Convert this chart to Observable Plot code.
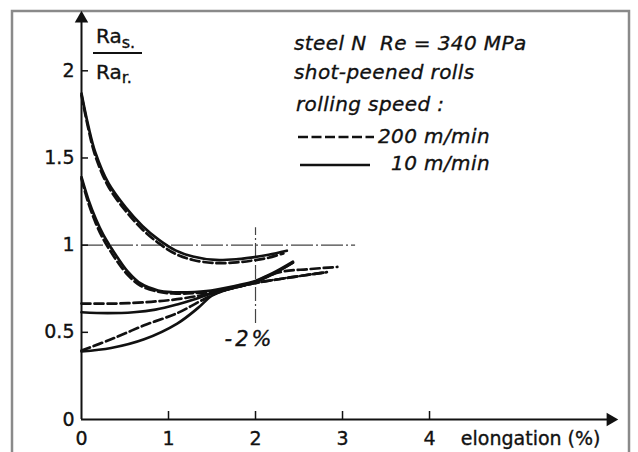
<!DOCTYPE html>
<html>
<head>
<meta charset="utf-8">
<script src="https://cdn.jsdelivr.net/npm/d3@7"></script>
<script src="https://cdn.jsdelivr.net/npm/@observablehq/plot@0.6"></script>
<style>
  html, body { margin: 0; padding: 0; background: #fff; }
  #chart { position: relative; width: 638px; height: 452px; overflow: hidden; }
  #chart svg { display: block; }
  #chart svg text { stroke: #111; stroke-width: 0.35px; }
</style>
</head>
<body>
<div id="chart"></div>
<script>
// Axis ticks and labels
const xTicks = [1, 2, 3, 4];
const xTickLabels = ["0", "1", "2", "3", "4"];
const xLabelValues = [0, 1, 2, 3, 4];
const yTicks = [0.5, 1, 1.5, 2];
const yLabelValues = [0, 0.5, 1, 1.5, 2];
const yTickLabels = ["0", "0.5", "1", "1.5", "2"];
const xMax = 6.08;   // end of the elongation axis (arrow)
const yMax = 2.3;    // end of the roughness-ratio axis (arrow)

// Reference lines: ratio = 1 and elongation = 2 %
const refLevel = 1;
const refLevelSpan = [0, 3.15];
const refElong = 2;
const refElongSpan = [0.55, 1.1];
const refElongLabel = "-2%";

// Roughness ratio Ra(strip)/Ra(roll) vs elongation (%)
// rolling speed 10 m/min (solid)
const a10x = [0, 0.08, 0.16, 0.31, 0.51, 0.70, 0.89, 1.08, 1.28, 1.54, 1.80, 1.97, 2.15, 2.36];
const a10y = [1.87, 1.68, 1.53, 1.355, 1.215, 1.11, 1.03, 0.97, 0.935, 0.915, 0.92, 0.93, 0.945, 0.968];
const b10x = [0, 0.08, 0.165, 0.25, 0.34, 0.42, 0.53, 0.68, 0.88, 1.05, 1.22, 1.49, 1.8, 1.97, 2.2, 2.43];
const b10y = [1.39, 1.26, 1.15, 1.06, 0.985, 0.925, 0.85, 0.78, 0.74, 0.73, 0.73, 0.74, 0.77, 0.79, 0.84, 0.905];
const c10x = [0, 0.3, 0.6, 0.85, 1.1, 1.3, 1.5, 1.7, 1.97, 2.2, 2.43];
const c10y = [0.615, 0.61, 0.615, 0.63, 0.66, 0.69, 0.725, 0.75, 0.785, 0.835, 0.9];
const d10x = [0, 0.34, 0.72, 1.1, 1.34, 1.5, 1.7, 1.97, 2.2, 2.43];
const d10y = [0.39, 0.41, 0.46, 0.55, 0.64, 0.71, 0.75, 0.785, 0.835, 0.9];

// rolling speed 200 m/min (dashed)
const a200x = [0, 0.08, 0.16, 0.31, 0.51, 0.70, 0.89, 1.08, 1.28, 1.54, 1.80, 1.97, 2.15, 2.32];
const a200y = [1.86, 1.665, 1.51, 1.335, 1.195, 1.09, 1.01, 0.95, 0.915, 0.897, 0.902, 0.912, 0.928, 0.953];
const b200x = [0, 0.08, 0.165, 0.25, 0.34, 0.42, 0.53, 0.68, 0.88, 1.05, 1.22, 1.49, 1.8, 1.97, 2.15, 2.33, 2.6, 2.94];
const b200y = [1.38, 1.24, 1.125, 1.035, 0.96, 0.9, 0.83, 0.767, 0.733, 0.723, 0.723, 0.733, 0.763, 0.785, 0.825, 0.85, 0.862, 0.875];
const c200x = [0, 0.4, 0.8, 1.1, 1.35, 1.55, 1.75, 1.97, 2.4, 2.82];
const c200y = [0.665, 0.665, 0.675, 0.69, 0.71, 0.73, 0.755, 0.78, 0.815, 0.845];
const d200x = [0, 0.34, 0.72, 1.1, 1.35, 1.55, 1.75, 1.97, 2.4, 2.82];
const d200y = [0.395, 0.46, 0.54, 0.61, 0.675, 0.725, 0.755, 0.78, 0.815, 0.845];

const rows = (curve, xs, ys) => xs.map((x, i) => ({curve, x, y: ys[i]}));
const solid = [
  ...rows("a", a10x, a10y), ...rows("b", b10x, b10y),
  ...rows("c", c10x, c10y), ...rows("d", d10x, d10y)
];
const dashed = [
  ...rows("a", a200x, a200y), ...rows("b", b200x, b200y),
  ...rows("c", c200x, c200y), ...rows("d", d200x, d200y)
];

const ink = "#111";
const font = "DejaVu Sans, sans-serif";

const plot = Plot.plot({
  width: 638,
  height: 452,
  marginLeft: 81,
  marginRight: 28,
  marginTop: 18,
  marginBottom: 33,
  style: {fontFamily: font, fontSize: "18px", background: "#fff", color: ink, overflow: "visible"},
  x: {domain: [0, xMax], axis: null},
  y: {domain: [0, yMax], axis: null},
  marks: [
    // reference lines (dash-dot)
    Plot.ruleY([refLevel], {x1: refLevelSpan[0], x2: refLevelSpan[1], stroke: "#444", strokeWidth: 1.2, strokeDasharray: "22,3,2,3"}),
    Plot.ruleX([refElong], {y1: refElongSpan[0], y2: refElongSpan[1], stroke: "#444", strokeWidth: 1.2, strokeDasharray: "14,3,2,3"}),
    Plot.text([refElong], {x: d => d, y: refElongSpan[0], text: () => refElongLabel, dy: 7, dx: -6, fontSize: 21, fontStyle: "italic", lineAnchor: "top", fill: ink}),

    // axes with arrows
    Plot.ruleY([0], {x1: 0, x2: xMax, stroke: ink, strokeWidth: 2}),
    Plot.ruleX([0], {y1: 0, y2: yMax, stroke: ink, strokeWidth: 2}),
    Plot.dot([[xMax, 0]], {x: d => d[0], y: d => d[1], symbol: "triangle", r: 5, fill: ink, stroke: null, rotate: 90}),
    Plot.dot([[0, yMax]], {x: d => d[0], y: d => d[1], symbol: "triangle", r: 5, fill: ink, stroke: null}),

    // inward ticks
    Plot.ruleX(xTicks, {x: d => d, y1: 0, y2: 0, insetBottom: 8, stroke: ink, strokeWidth: 1.5}),
    Plot.ruleY(yTicks, {y: d => d, x1: 0, x2: 0, insetRight: -7, stroke: ink, strokeWidth: 1.5}),

    // tick labels
    Plot.text(xLabelValues, {x: d => d, y: 0, text: (d, i) => xTickLabels[i], dy: 19, lineAnchor: "middle", fontSize: 19, fill: ink}),
    Plot.text(yLabelValues, {x: 0, y: d => d, text: (d, i) => yTickLabels[i], dx: -7, textAnchor: "end", lineAnchor: "middle", fontSize: 19, fill: ink}),
    Plot.text(["elongation (%)"], {frameAnchor: "bottom-right", text: d => d, dx: -10, dy: 19, textAnchor: "end", lineAnchor: "middle", fontSize: 19, fill: ink}),

    // curves
    Plot.line(solid, {x: "x", y: "y", z: "curve", curve: "catmull-rom", stroke: ink, strokeWidth: 2.7}),
    Plot.line(dashed, {x: "x", y: "y", z: "curve", curve: "catmull-rom", stroke: ink, strokeWidth: 2.7, strokeDasharray: "9,4"})
  ]
});

document.getElementById("chart").appendChild(plot);

const svg = d3.select(plot);

// spaced lettering for the 2 % marker
svg.selectAll("text").filter(function() { return this.textContent === refElongLabel; })
  .attr("letter-spacing", 3);

// frame, ratio label and legend
svg.insert("rect", ":first-child")
  .attr("x", 12).attr("y", 11).attr("width", 617).attr("height", 460)
  .attr("fill", "none").attr("stroke", "#8a8a8a").attr("stroke-width", 2.5);

const ratio = svg.append("g").attr("font-family", font).attr("fill", ink).attr("text-anchor", "start");
const numer = ratio.append("text").attr("x", 96).attr("y", 43).attr("font-size", 20);
numer.append("tspan").text("Ra");
numer.append("tspan").attr("font-size", 16).attr("dy", 5).text("s.");
ratio.append("line").attr("x1", 93).attr("x2", 142).attr("y1", 53).attr("y2", 53)
  .attr("stroke", ink).attr("stroke-width", 2);
const denom = ratio.append("text").attr("x", 96).attr("y", 79).attr("font-size", 20);
denom.append("tspan").text("Ra");
denom.append("tspan").attr("font-size", 16).attr("dy", 4).text("r.");

const legend = svg.append("g").attr("font-family", font).attr("font-style", "italic")
  .attr("font-size", 20).attr("fill", ink).attr("text-anchor", "start").attr("letter-spacing", 0.4);
legend.append("text").attr("x", 294).attr("y", 50).attr("xml:space", "preserve").text("steel N  Re = 340 MPa");
legend.append("text").attr("x", 294).attr("y", 79).text("shot-peened rolls");
legend.append("text").attr("x", 296).attr("y", 111).text("rolling speed :");
legend.append("line").attr("x1", 298).attr("x2", 374).attr("y1", 137).attr("y2", 137)
  .attr("stroke", ink).attr("stroke-width", 2.7).attr("stroke-dasharray", "10,3.5");
legend.append("text").attr("x", 490).attr("y", 143).attr("text-anchor", "end").text("200 m/min");
legend.append("line").attr("x1", 300).attr("x2", 370).attr("y1", 165).attr("y2", 165)
  .attr("stroke", ink).attr("stroke-width", 2.7);
legend.append("text").attr("x", 490).attr("y", 170).attr("text-anchor", "end").text("10 m/min");
</script>
</body>
</html>
